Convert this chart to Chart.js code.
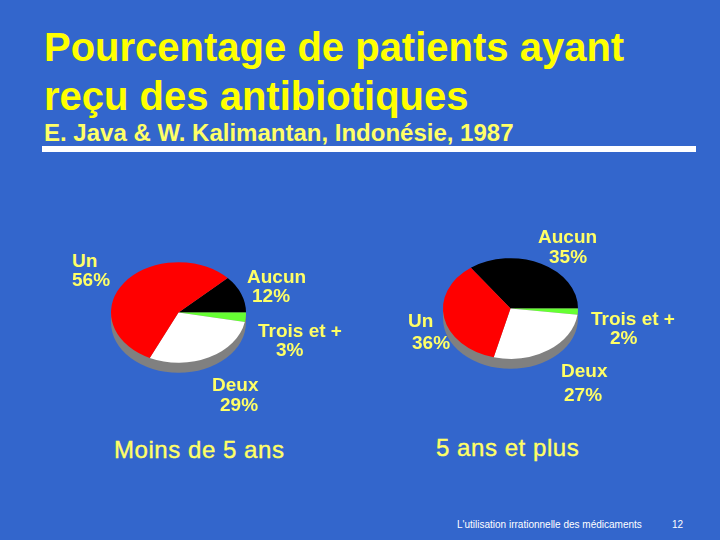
<!DOCTYPE html>
<html><head><meta charset="utf-8">
<style>
html,body{margin:0;padding:0;width:720px;height:540px;overflow:hidden;background:#3366CC;}
#stage{position:relative;width:720px;height:540px;font-family:"Liberation Sans",Arial,sans-serif;}
canvas.pie{position:absolute;}
.t{position:absolute;white-space:pre;line-height:1;}
.lab{color:#FFFF66;font-size:19px;font-weight:bold;}
#rule{position:absolute;left:42px;top:146px;width:654px;height:6px;background:#fff;}
.cap{color:#FFFF66;font-size:24px;letter-spacing:0.55px;-webkit-text-stroke:0.4px #FFFF66;}
</style>
<script src="https://cdn.jsdelivr.net/npm/chart.js@4"></script>
</head><body><div id="stage">
<div class="t" style="left:44px;top:27px;color:#FFFF00;font-size:40px;font-weight:bold;">Pourcentage de patients ayant</div>
<div class="t" style="left:44px;top:76px;color:#FFFF00;font-size:40px;font-weight:bold;">reçu des antibiotiques</div>
<div class="t" style="left:44px;top:121px;color:#FFFF66;font-size:24px;font-weight:bold;">E. Java &amp; W. Kalimantan, Indonésie, 1987</div>
<div id="rule"></div>
<div class="t cap" style="left:114px;top:438px;">Moins de 5 ans</div>
<div class="t cap" style="left:436px;top:436px;">5 ans et plus</div>
<div class="t" style="left:457px;top:520px;color:#fff;font-size:10px;">L'utilisation irrationnelle des médicaments</div>
<div class="t" style="left:672px;top:520px;color:#fff;font-size:10px;">12</div>
</div>
<script>
const categories = ["Aucun","Trois et +","Deux","Un"];
const under5Values = [12,3,29,56];
const over5Values = [35,2,27,36];
const sliceColors = ["#000000","#66FF33","#FFFFFF","#FF0000"];
const SQUASH = 0.745, DEPTH = 10, SIZE = 135, PAD = 12;

const squashPlugin = {
  id:'squash',
  beforeDatasetsDraw(chart){
    const a = chart.getDatasetMeta(0).data[0], c = chart.ctx;
    c.save();
    c.translate(a.x,a.y); c.scale(1,SQUASH); c.translate(-a.x,-a.y);
    c.fillStyle = '#808080';
    c.beginPath(); c.rect(a.x-a.outerRadius,a.y,a.outerRadius*2,DEPTH/SQUASH); c.fill();
    c.beginPath(); c.arc(a.x,a.y+DEPTH/SQUASH,a.outerRadius,0,Math.PI*2); c.fill();
  },
  afterDatasetsDraw(chart){ chart.ctx.restore(); }
};

function addText(s,x,y){
  const d=document.createElement('div');
  d.className='t lab';
  d.style.left=x+'px'; d.style.top=y+'px';
  d.textContent=s;
  document.getElementById('stage').appendChild(d);
}
function makePie(values,cx,cy,rotation,labelPos){
  const stage = document.getElementById('stage');
  const box = SIZE+PAD*2;
  const cv = document.createElement('canvas');
  cv.className='pie';
  cv.style.left=(cx-box/2)+'px'; cv.style.top=(cy-box/2)+'px';
  cv.style.width=box+'px'; cv.style.height=box+'px';
  cv.width=box; cv.height=box;
  stage.appendChild(cv);
  new Chart(cv,{type:'pie',
    data:{labels:categories,datasets:[{data:values,backgroundColor:sliceColors,borderWidth:0,clip:false}]},
    options:{responsive:false,animation:false,rotation:rotation,
      layout:{padding:PAD},
      plugins:{legend:{display:false},tooltip:{enabled:false},title:{display:false}}},
    plugins:[squashPlugin]});
  categories.forEach((name,i)=>{
    const p=labelPos[i];
    addText(name,p[0],p[1]);
    addText(values[i]+'%',p[2],p[3]);
  });
}
makePie(under5Values,178,312.5,46.8,[[247,267,252,286],[258,321,276,340],[212,375,220,395],[72,251,72,270]]);
makePie(over5Values,510.5,308.5,-36,[[538,227,549,247],[591,309,610,328],[561,361,564,385],[408,311,412,333]]);
</script>
</body></html>
